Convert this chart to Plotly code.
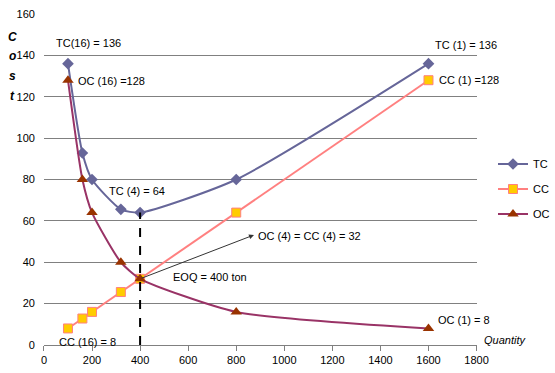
import plotly.graph_objects as go

quantity = [100, 160, 200, 320, 400, 800, 1600]
tc = [136, 92.8, 80, 65.6, 64, 80, 136]
cc = [8, 12.8, 16, 25.6, 32, 64, 128]
oc = [128, 80, 64, 40, 32, 16, 8]
eoq_q = 400
eoq_tc = 64

FONT = "Liberation Sans, Arial, sans-serif"
W, H = 555, 373

fig = go.Figure()
fig.add_trace(go.Scatter(x=quantity, y=tc, name="TC", mode="lines+markers",
                         line=dict(color="#666699", width=2, shape="spline", smoothing=0.6),
                         marker=dict(symbol="diamond", size=9, color="#666699"),
                         legendgroup="a"))
fig.add_trace(go.Scatter(x=quantity, y=cc, name="CC", mode="lines+markers",
                         line=dict(color="#FF8080", width=2),
                         marker=dict(symbol="square", size=9, color="#FFCC00",
                                     line=dict(color="#FF8080", width=1)),
                         legendgroup="b"))
fig.add_trace(go.Scatter(x=quantity, y=oc, name="OC", mode="lines+markers",
                         line=dict(color="#993366", width=2, shape="spline", smoothing=0.6),
                         marker=dict(symbol="triangle-up", size=10, color="#993300"),
                         legendgroup="c"))
fig.add_trace(go.Scatter(x=[eoq_q, eoq_q], y=[0, eoq_tc], mode="lines",
                         line=dict(color="black", width=2, dash="dash"),
                         showlegend=False, hoverinfo="skip"))

ann = [
    ("TC(16) = 136", 40, 146),
    ("OC (16) =128", 134, 127.6),
    ("TC (1) = 136", 1617, 145),
    ("CC (1) =128", 1637, 128),
    ("TC (4) = 64", 264, 74.4),
    ("OC (4) = CC (4) = 32", 884, 52.7),
    ("EOQ = 400 ton", 528, 32.9),
    ("CC (16) = 8", 53, 1.5),
    ("OC (1) = 8", 1633, 12),
]
annotations = []
for t, x, y in ann:
    annotations.append(dict(text=t, x=x, y=y, xref="x", yref="y", xanchor="left",
                            yanchor="middle", showarrow=False,
                            font=dict(family=FONT, size=11, color="black")))
# arrow
annotations.append(dict(x=874, y=53.2, ax=400, ay=32, xref="x", yref="y",
                        axref="x", ayref="y", text="", showarrow=True,
                        arrowhead=2, arrowsize=1, arrowwidth=1, arrowcolor="#333333"))
# y title letters (pixel positions -> paper)
for i, ch in enumerate("Cost"):
    annotations.append(dict(text="<b><i>%s</i></b>" % ch, x=13 / W, y=1 - (37 + 19.5 * i) / H,
                            xref="paper", yref="paper", showarrow=False,
                            xanchor="center", yanchor="middle",
                            font=dict(family=FONT, size=12, color="black")))
annotations.append(dict(text="<i>Quantity</i>", x=494 / W, y=1 - 340 / H,
                        xref="paper", yref="paper", xanchor="left", yanchor="middle",
                        showarrow=False, font=dict(family=FONT, size=11, color="black")))

fig.update_layout(
    width=W, height=H,
    margin=dict(l=0, r=0, t=0, b=0),
    paper_bgcolor="white", plot_bgcolor="white",
    showlegend=True,
    legend=dict(x=505 / W, y=1 - 189 / H, xanchor="left", yanchor="middle",
                font=dict(family=FONT, size=11, color="black"),
                tracegroupgap=6, itemwidth=30, bgcolor="rgba(0,0,0,0)"),
    annotations=annotations,
    font=dict(family=FONT, color="black"),
)
fig.update_xaxes(domain=[45 / W, 488 / W], automargin=False,
                 range=[0, 1800], tickmode="array", tickvals=list(range(0, 1801, 200)),
                 showgrid=False, zeroline=False, showline=True, linecolor="#808080", linewidth=1,
                 ticks="outside", ticklen=5, tickcolor="#808080",
                 tickfont=dict(family=FONT, size=11, color="black"))
fig.update_yaxes(domain=[1 - 345 / H, 1 - 14 / H], automargin=False,
                 range=[0, 160], tickmode="array", tickvals=list(range(0, 161, 20)),
                 showgrid=True, gridcolor="#808080", gridwidth=1, zeroline=False,
                 showline=False, ticks="", ticklabelstandoff=8,
                 tickfont=dict(family=FONT, size=11, color="black"))

fig.write_html("out.html", config={"displayModeBar": False},
               post_script="document.body.style.margin='0';")
